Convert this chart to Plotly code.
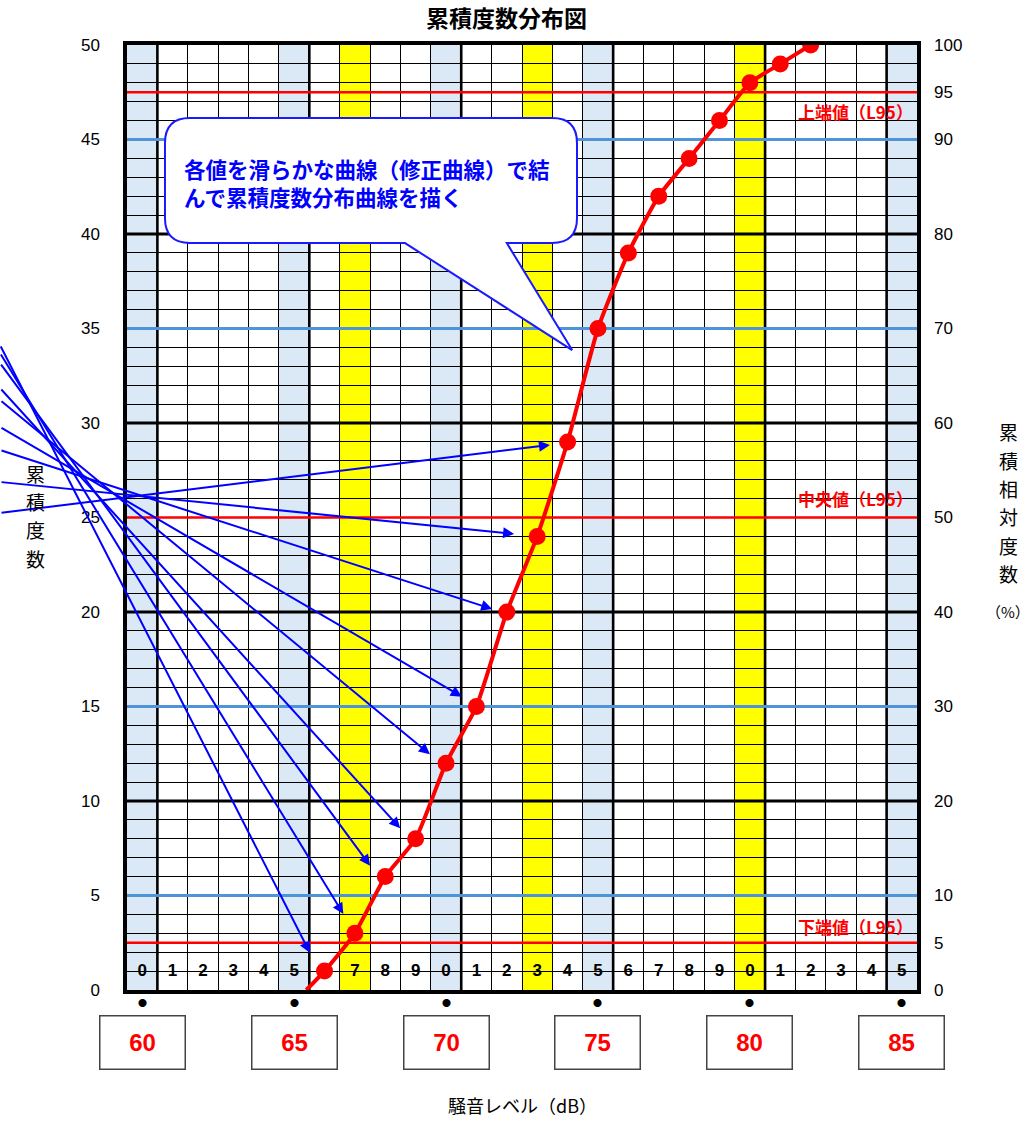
import plotly.graph_objects as go

# ---------------- data ----------------
levels = [66, 67, 68, 69, 70, 71, 72, 73, 74, 75, 76, 77, 78, 79, 80, 81, 82]
counts = [1, 3, 6, 8, 12, 15, 20, 24, 29, 35, 39, 42, 44, 46, 48, 49, 50]
curve_start_x = 65.4
curve_start_y = 0

box_levels = [60, 65, 70, 75, 80, 85]
left_ticks = [0, 5, 10, 15, 20, 25, 30, 35, 40, 45, 50]
right_ticks = [0, 5, 10, 20, 30, 40, 50, 60, 70, 80, 90, 95, 100]
digit_cols = list(range(60, 86))
digit_labels = ["0", "1", "2", "3", "4", "5", "6", "7", "8", "9",
                "0", "1", "2", "3", "4", "5", "6", "7", "8", "9",
                "0", "1", "2", "3", "4", "5"]

blue_cols = [60, 65, 70, 75, 85]
yellow_cols = [67, 73, 80]
thick_v = [60.5, 65.5, 70.5, 75.5, 80.5, 84.5]
thick_h = [10, 20, 30, 40]
blue_h = [5, 15, 35, 45]
red_h = [2.5, 25, 47.5]
red_labels = ["上端値（L95）", "中央値（L95）", "下端値（L95）"]
red_label_y = [46.46, 25.98, 3.35]

arrow_head_x = [65.52, 66.62, 67.50, 68.49, 69.47, 70.52, 71.52, 72.24, 73.42]
arrow_head_y = [1.97, 4.02, 6.58, 8.56, 12.47, 15.52, 20.16, 24.13, 28.84]
arrow_tail_x = 55.32
arrow_tail_y = [34.13, 33.70, 33.17, 31.85, 31.22, 29.79, 28.57, 26.88, 25.24]

balloon_text = "各値を滑らかな曲線（修正曲線）で結<br>んで累積度数分布曲線を描く"
balloon_left, balloon_right = 60.75, 74.31
balloon_top, balloon_bottom = 46.14, 39.52
balloon_rx, balloon_ry = 0.82, 1.32
pointer_base_left, pointer_base_right = 68.65, 72.0
pointer_tip_x, pointer_tip_y = 74.15, 33.86

left_title_chars = ["累", "積", "度", "数"]
right_title_chars = ["累", "積", "相", "対", "度", "数", "（%）"]

CJK = "Noto Sans CJK JP"
NUM = "Liberation Sans, Noto Sans CJK JP"
BLUE_FILL = "#dbe8f6"
GRID_BLUE = "#4f94d8"
RED = "#ff0000"
ARROW_BLUE = "#0000ff"

fig = go.Figure()

# bottom row digits
fig.add_trace(go.Scatter(
    x=digit_cols, y=[0.95] * len(digit_cols), mode="text",
    text=["<b>%s</b>" % d for d in digit_labels],
    textfont=dict(family=NUM, size=17, color="black"),
    hoverinfo="skip", showlegend=False))

# curve
fig.add_trace(go.Scatter(
    x=[curve_start_x] + levels, y=[curve_start_y] + counts, mode="lines",
    line=dict(color=RED, width=4, shape="spline", smoothing=0.5),
    hoverinfo="skip", showlegend=False))
fig.add_trace(go.Scatter(
    x=levels, y=counts, mode="markers",
    marker=dict(color=RED, size=17),
    hoverinfo="skip", showlegend=False))

# dummy trace for right axis
fig.add_trace(go.Scatter(
    x=[60], y=[0], yaxis="y2", mode="markers",
    marker=dict(opacity=0), hoverinfo="skip", showlegend=False))

shapes = []
for c in blue_cols:
    shapes.append(dict(type="rect", xref="x", yref="y", x0=c - 0.5, x1=c + 0.5,
                       y0=0, y1=50, fillcolor=BLUE_FILL, line=dict(width=0), layer="below"))
for c in yellow_cols:
    shapes.append(dict(type="rect", xref="x", yref="y", x0=c - 0.5, x1=c + 0.5,
                       y0=0, y1=50, fillcolor="#ffff00", line=dict(width=0), layer="below"))
for v in thick_v:
    shapes.append(dict(type="line", xref="x", yref="y", x0=v, x1=v, y0=0, y1=50,
                       line=dict(color="black", width=2.6), layer="between"))
for v in thick_h:
    shapes.append(dict(type="line", xref="x", yref="y", x0=59.5, x1=85.5, y0=v, y1=v,
                       line=dict(color="black", width=3), layer="between"))
for v in blue_h:
    shapes.append(dict(type="line", xref="x", yref="y", x0=59.5, x1=85.5, y0=v, y1=v,
                       line=dict(color=GRID_BLUE, width=3), layer="between"))
for v in red_h:
    shapes.append(dict(type="line", xref="x", yref="y", x0=59.5, x1=85.5, y0=v, y1=v,
                       line=dict(color=RED, width=2.5), layer="between"))

# balloon
L, R, T, B = balloon_left, balloon_right, balloon_top, balloon_bottom
rx, ry = balloon_rx, balloon_ry
path = (f"M {L+rx},{T} L {R-rx},{T} Q {R},{T} {R},{T-ry} L {R},{B+ry} "
        f"Q {R},{B} {R-rx},{B} L {pointer_base_right},{B} L {pointer_tip_x},{pointer_tip_y} "
        f"L {pointer_base_left},{B} L {L+rx},{B} Q {L},{B} {L},{B+ry} L {L},{T-ry} "
        f"Q {L},{T} {L+rx},{T} Z")
shapes.append(dict(type="path", xref="x", yref="y", path=path, fillcolor="white",
                   line=dict(color="#1a1aff", width=2), layer="above"))

annotations = []
# arrows
for hx, hy, ty in zip(arrow_head_x, arrow_head_y, arrow_tail_y):
    annotations.append(dict(x=hx, y=hy, xref="x", yref="y", ax=arrow_tail_x, ay=ty,
                            axref="x", ayref="y", text="", showarrow=True,
                            arrowhead=2, arrowsize=1.1, arrowwidth=2,
                            arrowcolor=ARROW_BLUE, standoff=0))
# balloon text
annotations.append(dict(x=61.3, y=42.7, xref="x", yref="y", text="<b>" + balloon_text + "</b>",
                        showarrow=False, xanchor="left", yanchor="middle", align="left",
                        font=dict(family=CJK, size=21.5, color=ARROW_BLUE)))
# red labels
for t, y in zip(red_labels, red_label_y):
    annotations.append(dict(x=85.45, y=y, xref="x", yref="y", text="<b>" + t + "</b>",
                            showarrow=False, xanchor="right", yanchor="middle",
                            font=dict(family=CJK, size=17, color=RED)))
# dots and boxes with level labels under the axis
for v in box_levels:
    annotations.append(dict(x=v, y=-0.0127, xref="x", yref="paper", text="●",
                            showarrow=False, xanchor="center", yanchor="middle",
                            font=dict(family=CJK, size=9, color="black")))
    annotations.append(dict(x=v, y=-0.0556, xref="x", yref="paper", text="<b>%d</b>" % v,
                            showarrow=False, xanchor="center", yanchor="middle",
                            width=84, height=52, borderpad=0, borderwidth=1.5,
                            bordercolor="#444444", bgcolor="white",
                            font=dict(family=NUM, size=24, color=RED)))
# axis titles
for i, ch in enumerate(left_title_chars):
    annotations.append(dict(x=-0.1152, y=27.34 - 1.5 * i, xref="paper", yref="y", text=ch,
                            showarrow=False, xanchor="center", yanchor="middle",
                            font=dict(family=CJK, size=19, color="black")))
for i, ch in enumerate(right_title_chars):
    yy = 29.54 - 1.5 * i if i < 6 else 20.02
    annotations.append(dict(x=1.1152, y=yy, xref="paper", yref="y", text=ch,
                            showarrow=False, xanchor="center", yanchor="middle",
                            font=dict(family=CJK, size=19 if i < 6 else 15, color="black")))
annotations.append(dict(x=0.5, y=-0.1217, xref="paper", yref="paper", text="騒音レベル（dB）",
                        showarrow=False, xanchor="center", yanchor="middle",
                        font=dict(family=CJK, size=18, color="black")))
annotations.append(dict(x=0.481, y=1.0296, xref="paper", yref="paper", text="<b>累積度数分布図</b>",
                        showarrow=False, xanchor="center", yanchor="middle",
                        font=dict(family=CJK, size=23, color="black")))

fig.update_layout(
    width=1033, height=1128,
    margin=dict(l=127, r=116, t=45, b=138),
    paper_bgcolor="white", plot_bgcolor="white",
    hovermode=False, showlegend=False,
    shapes=shapes, annotations=annotations,
    xaxis=dict(range=[59.5, 85.5], tick0=59.5, dtick=1, showgrid=True,
               gridcolor="black", gridwidth=1.3, showticklabels=False, ticks="",
               zeroline=False, showline=True, mirror=True, linecolor="black", linewidth=3.5),
    yaxis=dict(range=[0, 50], tickvals=left_ticks, showgrid=True, gridcolor="black",
               gridwidth=1.3, minor=dict(dtick=1, showgrid=True, gridcolor="black", gridwidth=1.3),
               ticks="", zeroline=False, showline=True, mirror=True, linecolor="black",
               linewidth=3.5, ticklabelstandoff=20,
               tickfont=dict(family=NUM, size=17, color="black")),
    yaxis2=dict(range=[0, 100], overlaying="y", side="right", tickvals=right_ticks,
                showgrid=False, zeroline=False, showline=False, ticks="",
                ticklabelstandoff=16, tickfont=dict(family=NUM, size=17, color="black")),
)

fig.write_html("out.html", config={"displayModeBar": False},
               post_script="document.body.style.margin='0';")
